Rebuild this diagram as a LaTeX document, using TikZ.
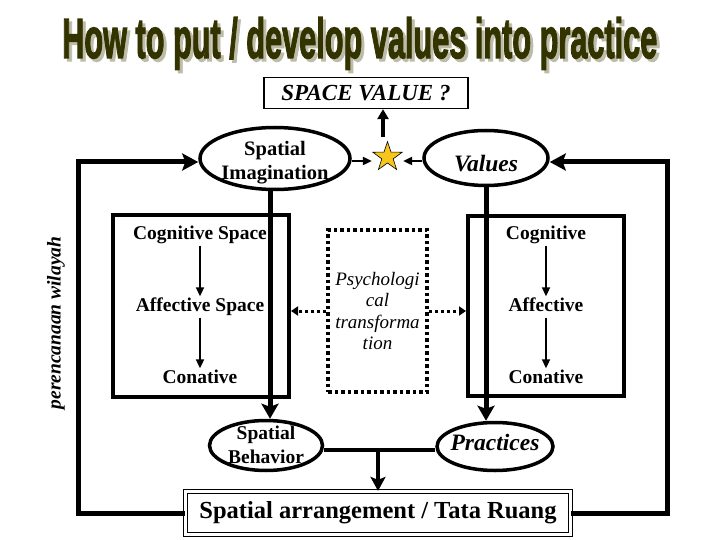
\documentclass[tikz,border=0pt]{standalone}
\usepackage{fontspec}
\setmainfont{Liberation Serif}
\newfontfamily\titlefont[BoldFeatures={FakeBold=2.5}]{Liberation Sans}
\usetikzlibrary{shapes.geometric,arrows.meta}
\definecolor{titlecol}{RGB}{51,51,0}
\definecolor{shadowcol}{RGB}{188,188,168}
\definecolor{staryellow}{RGB}{247,198,28}
\newcommand{\titletext}{\resizebox{595pt}{41pt}{\titlefont\bfseries How to put / develop values into practice}}
\begin{document}
\begin{tikzpicture}[x=1pt,y=-1pt,
  lbl/.style={font=\fontsize{19.5}{23}\selectfont\bfseries, inner sep=2pt, text height=13pt, text depth=4pt, anchor=base},
  ell/.style={ellipse, draw, line width=3.5pt, inner sep=0pt},
  etext/.style={inner sep=0pt, align=center},
  frame/.style={draw, line width=4pt, inner sep=0pt},
  small arrow/.style={line width=2pt, -{Triangle[length=9pt,width=8pt]}},
  up arrow/.style={line width=3.5pt, -{Triangle[length=10pt,width=11pt]}},
  big arrow/.style={line width=5pt, -{Stealth[length=15pt,width=17pt,inset=3pt]}},
  mid arrow/.style={line width=4pt, -{Stealth[length=14pt,width=15pt,inset=3pt]}},
  loopline/.style={line width=5pt, -{Stealth[length=16pt,width=17pt,inset=3pt]}},
  dot line/.style={line width=3pt, dash pattern=on 3pt off 3pt},
  dot arrow/.style={dot line, -{Triangle[length=7pt,width=9pt]}},
]
\useasboundingbox (0,0) rectangle (720,540);
\fill[white] (0,0) rectangle (720,540);

% title with its shadow, in one node
\node[anchor=base west, inner sep=0pt] (title) at (62,58)
  {\makebox[0pt][l]{\hspace{3pt}\raisebox{-3pt}{\color{shadowcol}\titletext}}\color{titlecol}\titletext};

% space value box and star
\node[draw, line width=1.3pt, minimum width=204pt, minimum height=31pt, inner sep=0pt,
  font=\fontsize{23}{26}\selectfont\bfseries\itshape] (sv) at (366,93) {SPACE VALUE ?};
\node[star, star points=5, star point ratio=2.6, minimum size=31pt, inner sep=0pt,
  fill=staryellow, draw, line width=0.6pt] (star) at (387.5,157) {};

% top ellipses
\node[ell, minimum width=150pt, minimum height=62pt] (si) at (275,158.5) {};
\node[etext, font=\fontsize{20.5}{24}\selectfont\bfseries] (sit) at (275,163) {Spatial\\Imagination};
\node[ell, minimum width=124pt, minimum height=55pt] (val) at (486,158) {};
\node[etext, anchor=base, font=\fontsize{23.5}{26}\selectfont\bfseries\itshape] (valt) at (486,172) {Values};

% boxes
\node[frame, minimum width=176pt, minimum height=182pt] (lbox) at (201,306) {};
\node[frame, minimum width=156pt, minimum height=180pt] (rbox) at (546,306) {};
\node[draw, line width=3.5pt, dash pattern=on 3.5pt off 3pt, minimum width=99pt, minimum height=162pt,
  inner sep=0pt, align=center, font=\fontsize{19}{21.5}\selectfont\itshape] (psy) at (377.5,311)
  {Psychologi\\cal\\transforma\\tion};

% box labels
\node[lbl] (cs) at (200,239.5) {Cognitive Space};
\node[lbl] (as) at (200,311.5) {Affective Space};
\node[lbl] (lc) at (200,383.5) {Conative};
\node[lbl] (rc) at (546,239.5) {Cognitive};
\node[lbl] (ra) at (546,311.5) {Affective};
\node[lbl] (rn) at (546,383.5) {Conative};
\draw[small arrow] (cs) -- (as);
\draw[small arrow] (as) -- (lc);
\draw[small arrow] (rc) -- (ra);
\draw[small arrow] (ra) -- (rn);

% dotted arrows
\draw[dot arrow] (psy.west) -- (psy.west -| lbox.east);
\draw[dot arrow] (psy.east) -- (psy.east -| rbox.west);

% lower ellipses
\node[ell, minimum width=113pt, minimum height=50pt] (sb) at (266,445.5) {};
\node[etext, font=\fontsize{19.5}{24}\selectfont\bfseries] (sbt) at (266,445) {Spatial\\Behavior};
\node[ell, minimum width=116pt, minimum height=48pt] (pr) at (495,446.5) {};
\node[etext, anchor=base, font=\fontsize{23.5}{26}\selectfont\bfseries\itshape] (prt) at (495,450) {Practices};

% bottom bar
\node[draw, double, line width=1.2pt, double distance=2.5pt, minimum width=385pt, minimum height=43pt,
  inner sep=0pt, font=\fontsize{24.5}{28}\selectfont\bfseries] (bar) at (378,513) {Spatial arrangement / Tata Ruang};

% side label
\node[rotate=90, inner sep=0pt, font=\fontsize{19.5}{22}\selectfont\bfseries\itshape] (pw) at (56,323) {perencanaan wilayah};

% helper coordinates
\coordinate (ux) at (383,0);
\coordinate (sy) at (0,161);
\coordinate (lx) at (270,0);
\coordinate (rx) at (486,0);
\coordinate (lt) at (78,162);
\coordinate (rt) at (667,162);
\coordinate (j) at (378,450);

% star connections
\draw[up arrow, shorten <=4pt] (star.north -| ux) -- (sv.south -| ux);
\draw[small arrow] (si.east |- sy) -- (star.162 |- sy);
\draw[small arrow] (val.west |- sy) -- (star.18 |- sy);

% thick vertical arrows
\draw[big arrow] (si.south -| lx) -- (sb.north -| lx);
\draw[big arrow] (val.south -| rx) -- (pr.north -| rx);

% join to bar
\draw[line width=3.5pt] (sb.east |- j) -- (pr.west |- j);
\draw[mid arrow] (j) -- (j |- bar.north);

% feedback loops
\draw[loopline] (bar.west) -| (lt) -- (lt -| si.west);
\draw[loopline] (bar.east) -| (rt) -- (rt -| val.east);
\end{tikzpicture}
\end{document}
